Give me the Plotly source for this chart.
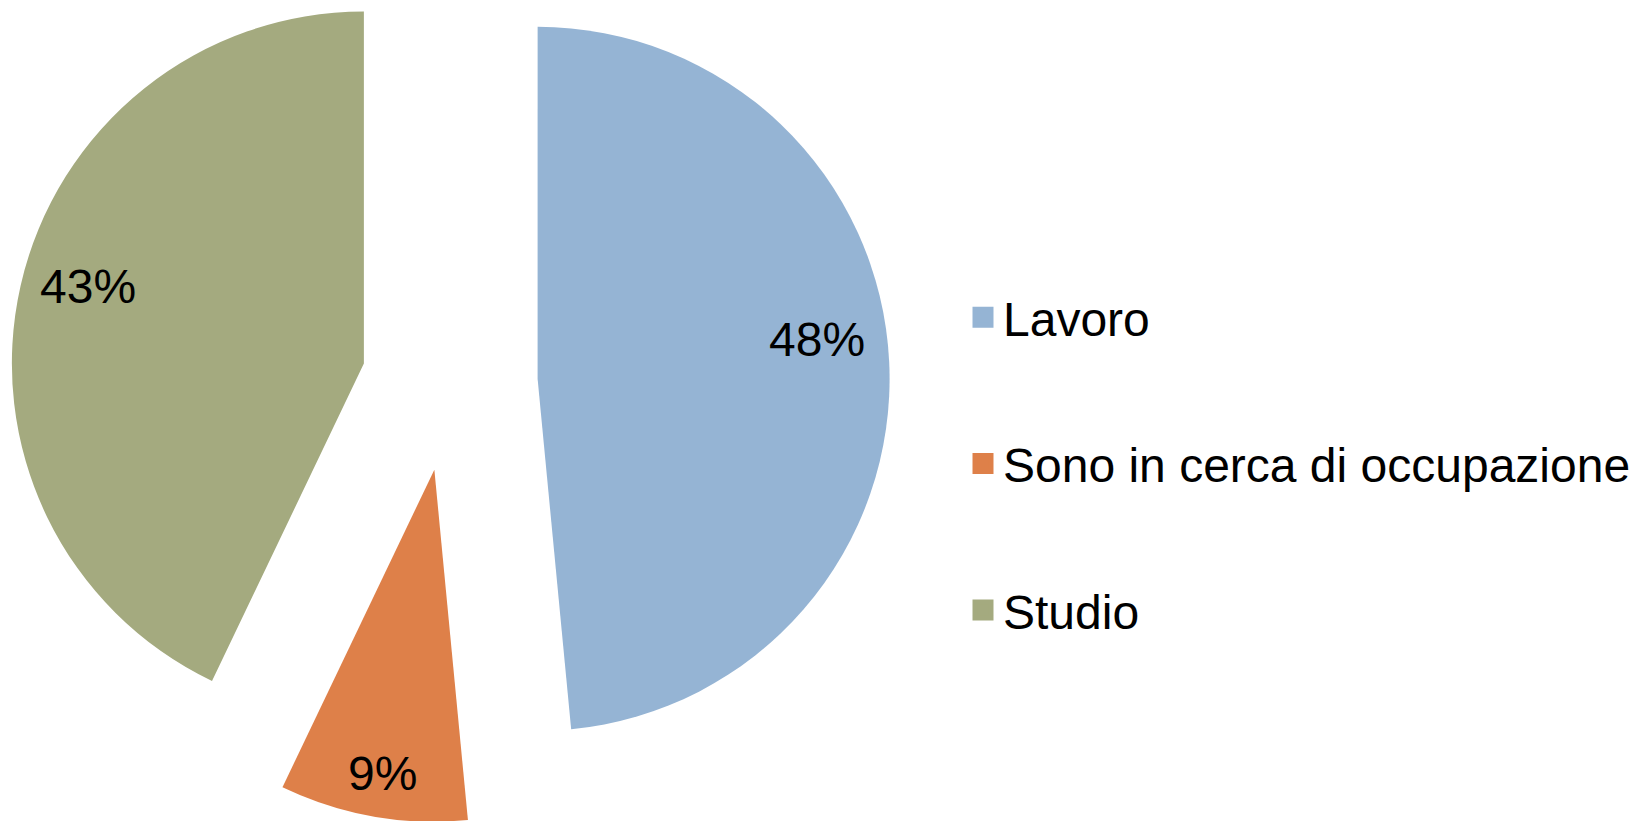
import math
import plotly.graph_objects as go

# ---- data ----
categories = ["Lavoro", "Sono in cerca di occupazione", "Studio"]
values = [48.48, 8.62, 42.90]   # shares (labels: 48%, 9%, 43%)

# ---- style ----
colors = ["#95B4D4", "#DE8049", "#A4AA7F"]
W, H = 1637, 821
PAGE = 8.0                 # default page margin around the figure (px)
R = 352.0                  # slice radius (px)
CX, CY = 449.7, 383.0      # un-exploded pie centre in the window (px)
PULL = 0.25                # explosion as fraction of radius
label_f = [0.80, 0.88, 0.814]     # label distance from slice apex (fraction of R)
label_dt = [-5.0, -0.35, 2.7]     # label angle tweak (deg)
LABEL_DY = -1.0
FONT = "Liberation Sans, Arial, sans-serif"

total = sum(values)
fig = go.Figure()


def clamp(v):
    return max(0.0, min(1.0, v))


start = 0.0
for i, (cat, v, col) in enumerate(zip(categories, values, colors)):
    span = 360.0 * v / total
    mid = start + span / 2.0
    mr = math.radians(mid)
    ax = CX - PAGE + PULL * R * math.sin(mr)
    ay = CY - PAGE - PULL * R * math.cos(mr)
    fig.add_trace(go.Pie(
        labels=categories,
        values=values,
        sort=False,
        direction="clockwise",
        rotation=0,
        marker=dict(colors=[col if j == i else "rgba(0,0,0,0)" for j in range(len(values))],
                    line=dict(width=0)),
        textinfo="none",
        hoverinfo="label+percent",
        showlegend=False,
        domain=dict(x=[clamp((ax - R) / W), clamp((ax + R) / W)],
                    y=[clamp(1 - (ay + R) / H), clamp(1 - (ay - R) / H)]),
    ))
    la = math.radians(mid + label_dt[i])
    lx = ax + label_f[i] * R * math.sin(la)
    ly = ay - label_f[i] * R * math.cos(la) + LABEL_DY
    fig.add_annotation(
        x=lx / W, y=1 - ly / H, xref="paper", yref="paper",
        text=f"{round(100 * v / total)}%", showarrow=False,
        xanchor="center", yanchor="middle",
        font=dict(family=FONT, size=48, color="black"),
    )
    start += span

# legend entries
for cat, col in zip(categories, colors):
    fig.add_trace(go.Scatter(
        x=[None], y=[None], mode="markers", name=cat, legendgroup=cat,
        marker=dict(symbol="square", size=16, color=col, line=dict(color=col, width=5)),
        hoverinfo="skip",
    ))

fig.update_layout(
    width=W, height=H,
    margin=dict(l=0, r=0, t=0, b=0),
    paper_bgcolor="white", plot_bgcolor="white",
    xaxis=dict(visible=False), yaxis=dict(visible=False),
    legend=dict(
        x=955 / W, xanchor="left",
        y=1 - 271.5 / H, yanchor="top",
        font=dict(family=FONT, size=48, color="black"),
        traceorder="grouped", tracegroupgap=81,
        bgcolor="rgba(0,0,0,0)",
    ),
)

fig.write_html("out.html")
